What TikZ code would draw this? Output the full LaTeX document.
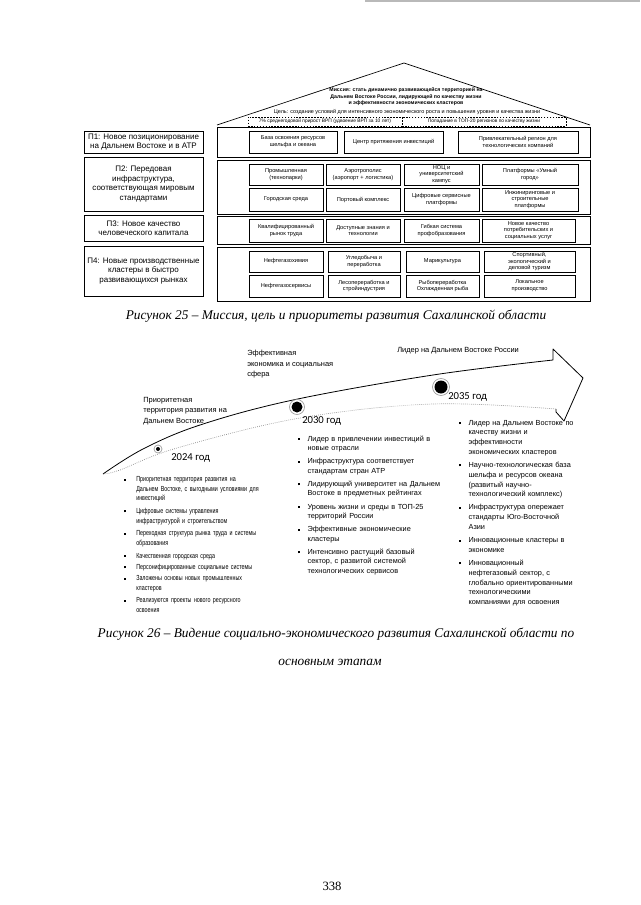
\documentclass[tikz,border=0pt]{standalone}
\usepackage{fontspec}
\setmainfont{Liberation Serif}
\newfontfamily\arialf{Liberation Sans}
\newfontfamily\narrowf[FakeStretch=0.73]{Liberation Sans}
\newfontfamily\calibf{Carlito}
\newdimen\bhang
\newcommand\bulletsq{\rule[0.8pt]{1.5pt}{1.5pt}}
\newcommand\bi[1]{\par\noindent\makebox[\bhang][l]{\bulletsq}\begin{tabular}[t]{@{}l@{}}#1\end{tabular}\par}
\newcommand\bx[7][ibox]{\node[#1, minimum width={(#5-#3)*0.75pt}, minimum height={(#6-#4)*0.75pt}] (#2) at ({(#3+#5)/2},{(#4+#6)/2}) {#7};}
\begin{document}
\begin{tikzpicture}[x=0.75pt,y=-0.75pt,
  lbox/.style={draw, line width=0.5pt, inner sep=0pt, align=center, font=\arialf\fontsize{6}{7.1}\selectfont},
  ibox/.style={draw, line width=0.45pt, inner sep=0pt, align=center, font=\arialf\fontsize{4.25}{5.1}\selectfont},
  cont/.style={draw, line width=0.5pt, inner sep=0pt},
  gbox/.style={draw, line width=0.4pt, inner sep=0pt, dash pattern=on 1.2pt off 1pt},
  tinyt/.style={inner sep=0pt, align=center, font=\arialf\fontsize{3.65}{4.5}\selectfont},
  miss/.style={inner sep=0pt, align=center, font=\arialf\bfseries\fontsize{3.9}{4.9}\selectfont},
  lab/.style={inner sep=0pt, align=left, anchor=north west, font=\arialf\fontsize{5.6}{7.9}\selectfont},
  yr/.style={inner sep=0pt, anchor=west, font=\calibf\fontsize{8}{9}\selectfont},
  blist/.style={inner sep=0pt, anchor=north west, text width=160pt, align=left},
  capt/.style={inner sep=0pt, font=\itshape\fontsize{10}{12}\selectfont},
  dotcore/.style={circle, fill=black, inner sep=0pt},
  dotring/.style={circle, draw=gray!80, line width=0.5pt, inner sep=0pt}
]
\useasboundingbox (0,0) rectangle (640,905);
% scan artefact at top
\draw[gray!55, line width=1pt] (365,1) -- (640,1);

% ===== Figure 25 =====
\coordinate (roofL) at (217,125);
\coordinate (apex) at (404,63);
\coordinate (roofR) at (590,125);
\draw[line width=0.5pt] (roofL) -- (apex) -- (roofR);

\node[miss] (mission) at (406,97) {Миссия: стать динамично развивающейся территорией на\\Дальнем Востоке России, лидирующей по качеству жизни\\и эффективности экономических кластеров};
\node[tinyt, font=\arialf\fontsize{4.1}{4.8}\selectfont] (goal) at (407,112) {Цель: создание условий для интенсивного экономического роста и повышения уровня и качества жизни};
\bx[gbox]{gl}{248}{117}{402}{126}{}
\bx[gbox]{gr}{402}{117}{566}{126}{}
\node[tinyt] (g1) at (gl.center) {7\% среднегодовой прирост ВРП (удвоение ВРП за 10 лет)};
\node[tinyt] (g2) at (gr.center) {Попадание в ТОП-20 регионов по качеству жизни};

% left priorities
\bx[lbox]{p1}{84}{131}{203}{153}{П1: Новое позиционирование\\на Дальнем Востоке и в АТР}
\bx[lbox]{p2}{84}{157}{203}{211}{П2: Передовая\\инфраструктура,\\соответствующая мировым\\стандартами}
\bx[lbox]{p3}{84}{215}{203}{241}{П3: Новое качество\\человеческого капитала}
\bx[lbox]{p4}{84}{246}{203}{296}{П4: Новые производственные\\кластеры в быстро\\развивающихся рынках}

% row containers
\bx[cont]{r1}{217}{127}{590}{157}{}
\bx[cont]{r2}{217}{160}{590}{214}{}
\bx[cont]{r3}{217}{216}{590}{244}{}
\bx[cont]{r4}{217}{247}{590}{301}{}

% row 1
\bx{b11}{249}{131}{337}{153}{База освоения ресурсов\\шельфа и океана}
\bx{b12}{344}{131}{443}{153}{Центр притяжения инвестиций}
\bx{b13}{458}{131}{578}{153}{Привлекательный регион для\\технологических компаний}
% row 2
\bx{b21}{249}{164}{323}{185}{Промышленная\\(технопарки)}
\bx{b22}{326}{164}{400}{185}{Аэротрополис\\(аэропорт + логистика)}
\bx{b23}{404}{164}{479}{185}{НОЦ и\\университетский\\кампус}
\bx{b24}{482}{164}{578}{185}{Платформы «Умный\\город»}
\bx{b25}{249}{188}{323}{211}{Городская среда}
\bx{b26}{326}{188}{400}{211}{Портовый комплекс}
\bx{b27}{404}{188}{479}{211}{Цифровые сервисные\\платформы}
\bx{b28}{482}{188}{578}{211}{Инжиниринговые и\\строительные\\платформы}
% row 3
\bx{b31}{249}{219}{323}{242}{Квалифицированный\\рынок труда}
\bx{b32}{326}{219}{400}{242}{Доступные знания и\\технологии}
\bx{b33}{404}{219}{479}{242}{Гибкая система\\профобразования}
\bx{b34}{482}{219}{575}{242}{Новое качество\\потребительских и\\социальных услуг}
% row 4
\bx{b41}{249}{251}{323}{272}{Нефтегазохимия}
\bx{b42}{328}{251}{400}{272}{Угледобыча и\\переработка}
\bx{b43}{406}{251}{479}{272}{Марикультура}
\bx{b44}{484}{251}{575}{272}{Спортивный,\\экологический и\\деловой туризм}
\bx{b45}{249}{275}{323}{297}{Нефтегазосервисы}
\bx{b46}{328}{275}{400}{297}{Лесопереработка и\\стройиндустрия}
\bx{b47}{406}{275}{479}{297}{Рыбопереработка\\Охлажденная рыба}
\bx{b48}{484}{275}{575}{297}{Локальное\\производство}

\node[capt] (cap25) at (336,316) {Рисунок 25 – Миссия, цель и приоритеты развития Сахалинской области};

% ===== Figure 26 =====
\coordinate (barbT) at (553,349);
\coordinate (tip) at (583,378);
\coordinate (barbB) at (564,421);
\coordinate (le) at (556,409);
\draw[line width=0.6pt, line join=round] plot[smooth, tension=0.6] coordinates {(103,474) (143,449) (200,425) (293,400) (433,375) (553,360)} -- (barbT) -- (tip) -- (barbB) -- (556,412) -- (le);
\draw[gray, densely dotted, line width=0.5pt] plot[smooth, tension=0.6] coordinates {(556,409) (433,404) (300,418) (177,448) (120,470) (103,474)};

\node[dotring, minimum size=8*0.75pt] (r2024) at (158,449) {};
\node[dotcore, minimum size=4*0.75pt] (d2024) at (158,449) {};
\node[dotring, minimum size=15*0.75pt] (r2030) at (297,407) {};
\node[dotcore, minimum size=11*0.75pt] (d2030) at (297,407) {};
\node[dotring, minimum size=17*0.75pt] (r2035) at (441,387) {};
\node[dotcore, minimum size=13*0.75pt] (d2035) at (441,387) {};

\node[yr] (y2024) at (171,458) {2024 год};
\node[yr] (y2030) at (302,421) {2030 год};
\node[yr] (y2035) at (448,397) {2035 год};

\node[lab] (l2024) at (143,397) {Приоритетная\\территория развития на\\Дальнем Востоке};
\node[lab] (l2030) at (247,350) {Эффективная\\экономика и социальная\\сфера};
\node[lab] (l2035) at (397,347) {Лидер на Дальнем Востоке России};

\node[blist, font=\narrowf\fontsize{5.5}{7.2}\selectfont] (list2024) at (124,470) {\bhang=9pt\parskip=1.3pt
\bi{Приоритетная территория развития на\\Дальнем Востоке, с выгодными условиями для\\инвестиций}
\bi{Цифровые системы управления\\инфраструктурой и строительством}
\bi{Переходная структура рынка труда и системы\\образования}
\bi{Качественная городская среда}
\bi{Персонифицированные социальные системы}
\bi{Заложены основы новых промышленных\\кластеров}
\bi{Реализуются проекты нового ресурсного\\освоения}};

\node[blist, font=\arialf\fontsize{5.5}{7.2}\selectfont] (list2030) at (298,429) {\bhang=7pt\parskip=1.6pt
\bi{Лидер в привлечении инвестиций в\\новые отрасли}
\bi{Инфраструктура соответствует\\стандартам стран АТР}
\bi{Лидирующий университет на Дальнем\\Востоке в предметных рейтингах}
\bi{Уровень жизни и среды в ТОП-25\\территорий России}
\bi{Эффективные экономические\\кластеры}
\bi{Интенсивно растущий базовый\\сектор, с развитой системой\\технологических сервисов}};

\node[blist, font=\arialf\fontsize{5.5}{7.3}\selectfont] (list2035) at (459,413) {\bhang=7pt\parskip=1.6pt
\bi{Лидер на Дальнем Востоке по\\качеству жизни и\\эффективности\\экономических кластеров}
\bi{Научно-технологическая база\\шельфа и ресурсов океана\\(развитый научно-\\технологический комплекс)}
\bi{Инфраструктура опережает\\стандарты Юго-Восточной\\Азии}
\bi{Инновационные кластеры в\\экономике}
\bi{Инновационный\\нефтегазовый сектор, с\\глобально ориентированными\\технологическими\\компаниями для освоения}};

\node[capt] (cap26a) at (336,634) {Рисунок 26 – Видение социально-экономического развития Сахалинской области по};
\node[capt] (cap26b) at (330,662) {основным этапам};

\node[inner sep=0pt, font=\fontsize{9.5}{11}\selectfont] (pg) at (332,886) {338};
\end{tikzpicture}
\end{document}
